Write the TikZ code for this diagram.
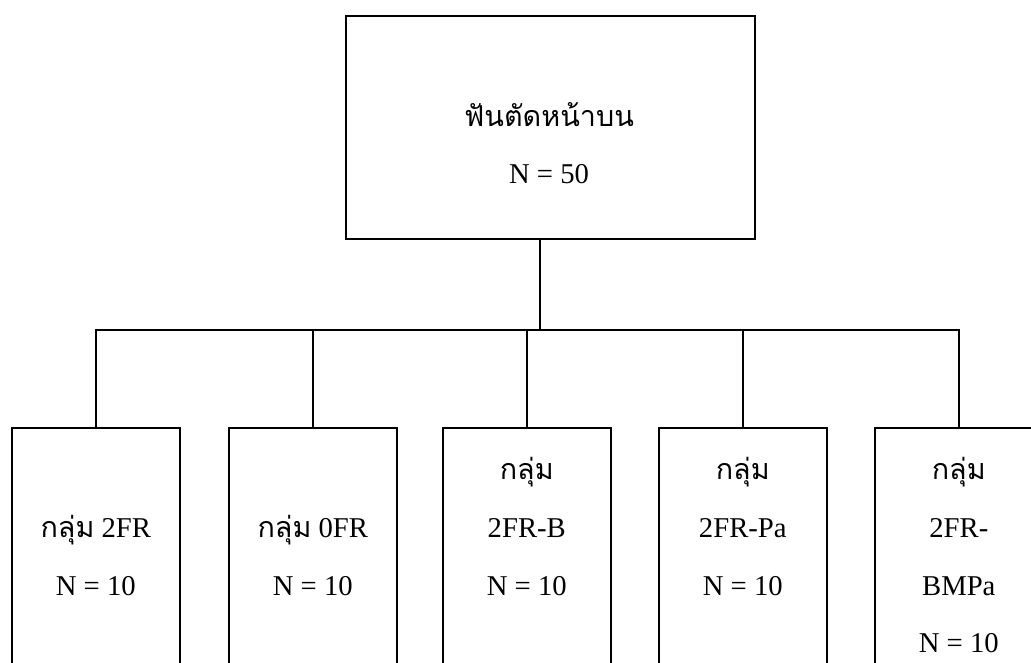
\documentclass[tikz,border=0pt]{standalone}
\usepackage{fontspec}
\setmainfont{Liberation Serif}
\newfontfamily\thaifont[Script=Thai]{Loma}
\newcommand{\thaitxt}[1]{{\thaifont #1}}
\begin{document}
\begin{tikzpicture}[x=1pt,y=-1pt,
  box/.style={draw=black, line width=1.6pt, rectangle, inner sep=0pt},
  link/.style={draw=black, line width=1.6pt},
  txt/.style={anchor=base, inner sep=0pt, font=\fontsize{28.7}{34}\selectfont}]
\useasboundingbox (0,0) rectangle (1031,662);
\clip (0,0) rectangle (1031,662);
% top box
\node[box, minimum width=409pt, minimum height=223pt, anchor=north west] (top) at (345,15) {};
\node[txt] (topa) at (549,126) {\thaitxt{ฟันตัดหน้าบน}};
\node[txt] (topb) at (549,183) {N = 50};
% bottom boxes
\foreach \n/\x in {b1/11, b2/228, b3/442, b4/658, b5/874}{
  \node[box, minimum width=168pt, minimum height=280pt, anchor=north west] (\n) at (\x,427) {};
}
% connectors
\coordinate (stem) at (540,238);
\coordinate (bus) at (540,330);
\draw[link] (stem) -- (bus);
\draw[link] (b1.north) |- (bus) -| (b5.north);
\draw[link] (b2.north) -- (b2.north |- bus);
\draw[link] (b3.north) -- (b3.north |- bus);
\draw[link] (b4.north) -- (b4.north |- bus);
% texts
\node[txt] (t1a) at (b1.north |- 0,537) {\thaitxt{กลุ่ม} 2FR};
\node[txt] (t1b) at (b1.north |- 0,595) {N = 10};
\node[txt] (t2a) at (b2.north |- 0,537) {\thaitxt{กลุ่ม} 0FR};
\node[txt] (t2b) at (b2.north |- 0,595) {N = 10};
\node[txt] (t3a) at (b3.north |- 0,479) {\thaitxt{กลุ่ม}};
\node[txt] (t3b) at (b3.north |- 0,537) {2FR-B};
\node[txt] (t3c) at (b3.north |- 0,595) {N = 10};
\node[txt] (t4a) at (b4.north |- 0,479) {\thaitxt{กลุ่ม}};
\node[txt] (t4b) at (b4.north |- 0,537) {2FR-Pa};
\node[txt] (t4c) at (b4.north |- 0,595) {N = 10};
\node[txt] (t5a) at (b5.north |- 0,479) {\thaitxt{กลุ่ม}};
\node[txt] (t5b) at (b5.north |- 0,537) {2FR-};
\node[txt] (t5c) at (b5.north |- 0,595) {BMPa};
\node[txt] (t5d) at (b5.north |- 0,652) {N = 10};
\end{tikzpicture}
\end{document}
